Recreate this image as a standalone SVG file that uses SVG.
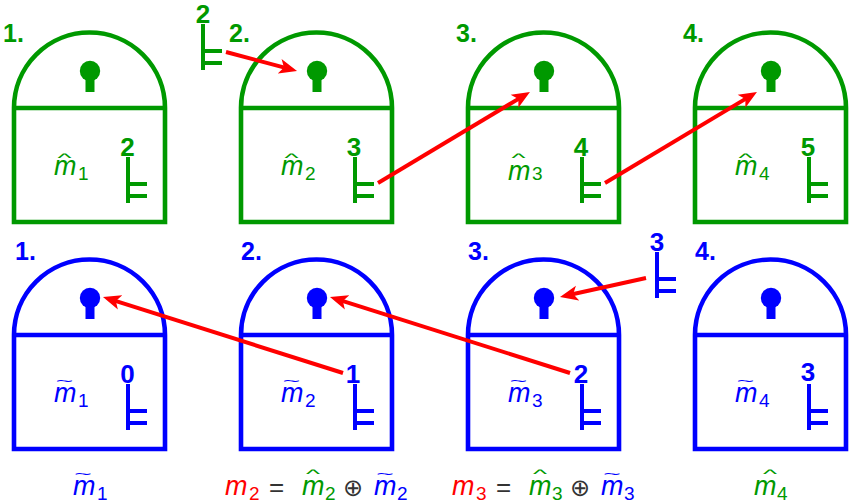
<svg xmlns="http://www.w3.org/2000/svg" width="850" height="502" viewBox="0 0 850 502">
<style>
text{font-family:"Liberation Sans",Arial,Helvetica,sans-serif}
.g{color:#009900;fill:#009900}
.b{color:#0000ff;fill:#0000ff}
.r{fill:#ff0000}
.d{fill:#009900}
.k{fill:#333333}
.n{font-weight:bold;font-size:25px}
.kn{font-weight:bold;font-size:26px;text-anchor:middle}
.m{font-style:italic;font-size:27px}
.s{font-size:19px}
.a{font-size:13px;text-anchor:middle}
.c{stroke:#ff0000;stroke-width:4;fill:none;marker-end:url(#ah)}
</style>
<defs>
<marker id="ah" markerUnits="userSpaceOnUse" markerWidth="20" markerHeight="16" viewBox="0 -8 20 16" refX="10" refY="0" orient="auto"><path d="M18 0L0 -7.5L4.5 0L0 7.5Z" fill="#ff0000"/></marker>
<g id="lock" fill="none" stroke="currentColor">
<path d="M14 108A75.5 75.5 0 0 1 165 108V222H14ZM14 108H165" stroke-width="4.6"/>
<circle cx="90" cy="71" r="10.2" fill="currentColor" stroke="none"/>
<rect x="85.5" y="74" width="9" height="18" fill="currentColor" stroke="none"/>
</g>
<path id="key" d="M128 157V203M128 184H147M128 196H147" fill="none" stroke="currentColor" stroke-width="4"/>
</defs>

<g id="green-1" class="g"><use href="#lock"/><text class="n" x="3" y="42">1.</text><use href="#key"/><text class="kn" x="127.5" y="156">2</text>
<text class="a" transform="translate(64.5 162) scale(2.3 1)">^</text><text class="m" x="54" y="175">m</text><text class="s" x="78" y="180">1</text></g>
<g id="green-2" class="g"><use href="#lock" x="227"/><text class="n" x="229" y="42">2.</text><use href="#key" x="227"/><text class="kn" x="354" y="156">3</text>
<text class="a" transform="translate(291.5 162) scale(2.3 1)">^</text><text class="m" x="281" y="175">m</text><text class="s" x="305" y="180">2</text></g>
<g id="green-key-2" class="g"><use href="#key" x="75" y="-133"/><text class="kn" x="203" y="23">2</text></g>
<g id="green-3" class="g"><use href="#lock" x="454"/><text class="n" x="456" y="42">3.</text><use href="#key" x="454"/><text class="kn" x="581" y="156">4</text>
<text class="a" transform="translate(518.5 162) scale(2.3 1)">^</text><text class="m" x="508" y="180">m</text><text class="s" x="532" y="180">3</text></g>
<g id="green-4" class="g"><use href="#lock" x="681"/><text class="n" x="683" y="42">4.</text><use href="#key" x="681"/><text class="kn" x="808" y="156">5</text>
<text class="a" transform="translate(745.5 162) scale(2.3 1)">^</text><text class="m" x="735" y="175">m</text><text class="s" x="759" y="180">4</text></g>

<g id="blue-1" class="b"><use href="#lock" y="227"/><text class="n" x="15" y="260">1.</text><use href="#key" y="227"/><text class="kn" x="127.5" y="383">0</text>
<text class="a" transform="translate(64.5 385) scale(2.3 1)">~</text><text class="m" x="54" y="402">m</text><text class="s" x="78" y="407">1</text></g>
<g id="blue-2" class="b"><use href="#lock" x="227" y="227"/><text class="n" x="241" y="260">2.</text><use href="#key" x="227" y="227"/><text class="kn" x="353" y="383">1</text>
<text class="a" transform="translate(291.5 385) scale(2.3 1)">~</text><text class="m" x="281" y="402">m</text><text class="s" x="305" y="407">2</text></g>
<g id="blue-3" class="b"><use href="#lock" x="454" y="227"/><text class="n" x="468" y="260">3.</text><use href="#key" x="454" y="227"/><text class="kn" x="581" y="383">2</text>
<text class="a" transform="translate(518.5 385) scale(2.3 1)">~</text><text class="m" x="508" y="402">m</text><text class="s" x="532" y="407">3</text></g>
<g id="blue-key-3" class="b"><use href="#key" x="529" y="95"/><text class="kn" x="657" y="251">3</text></g>
<g id="blue-4" class="b"><use href="#lock" x="681" y="227"/><text class="n" x="695" y="260">4.</text><use href="#key" x="681" y="227"/><text class="kn" x="808" y="381">3</text>
<text class="a" transform="translate(745.5 385) scale(2.3 1)">~</text><text class="m" x="735" y="402">m</text><text class="s" x="759" y="407">4</text></g>

<g id="connectors">
<path class="c" d="M226 52L289.3 68.9"/>
<path class="c" d="M378 183L523.1 96.1"/>
<path class="c" d="M605 183L750.1 96.1"/>
<path class="c" d="M343 373L110.6 299.4"/>
<path class="c" d="M570 373L337.6 299.4"/>
<path class="c" d="M646 278L567.8 295.3"/>
</g>

<g id="captions">
<g class="b"><text class="a" transform="translate(83 478) scale(2.3 1)">~</text><text class="m" x="73" y="495">m</text><text class="s" x="97" y="500">1</text></g>
<g><text class="m r" x="225" y="495">m</text><text class="s r" x="249" y="500">2</text>
<text class="k" x="269" y="496" font-size="26">=</text>
<text class="a d" transform="translate(313 478) scale(2.3 1)">^</text><text class="m d" x="302" y="495">m</text><text class="s d" x="325" y="500">2</text>
<text class="k" x="343" y="496" font-size="24" style="font-family:'DejaVu Sans',sans-serif">⊕</text>
<text class="a b" transform="translate(385 478) scale(2.3 1)">~</text><text class="m b" x="374" y="495">m</text><text class="s b" x="397" y="500">2</text></g>
<g><text class="m r" x="452" y="495">m</text><text class="s r" x="476" y="500">3</text>
<text class="k" x="496" y="496" font-size="26">=</text>
<text class="a d" transform="translate(540 478) scale(2.3 1)">^</text><text class="m d" x="529" y="495">m</text><text class="s d" x="552" y="500">3</text>
<text class="k" x="570" y="496" font-size="24" style="font-family:'DejaVu Sans',sans-serif">⊕</text>
<text class="a b" transform="translate(612 478) scale(2.3 1)">~</text><text class="m b" x="601" y="495">m</text><text class="s b" x="624" y="500">3</text></g>
<g class="g"><text class="a" transform="translate(770 478) scale(2.3 1)">^</text><text class="m" x="754" y="495">m</text><text class="s" x="777" y="500">4</text></g>
</g>
</svg>
